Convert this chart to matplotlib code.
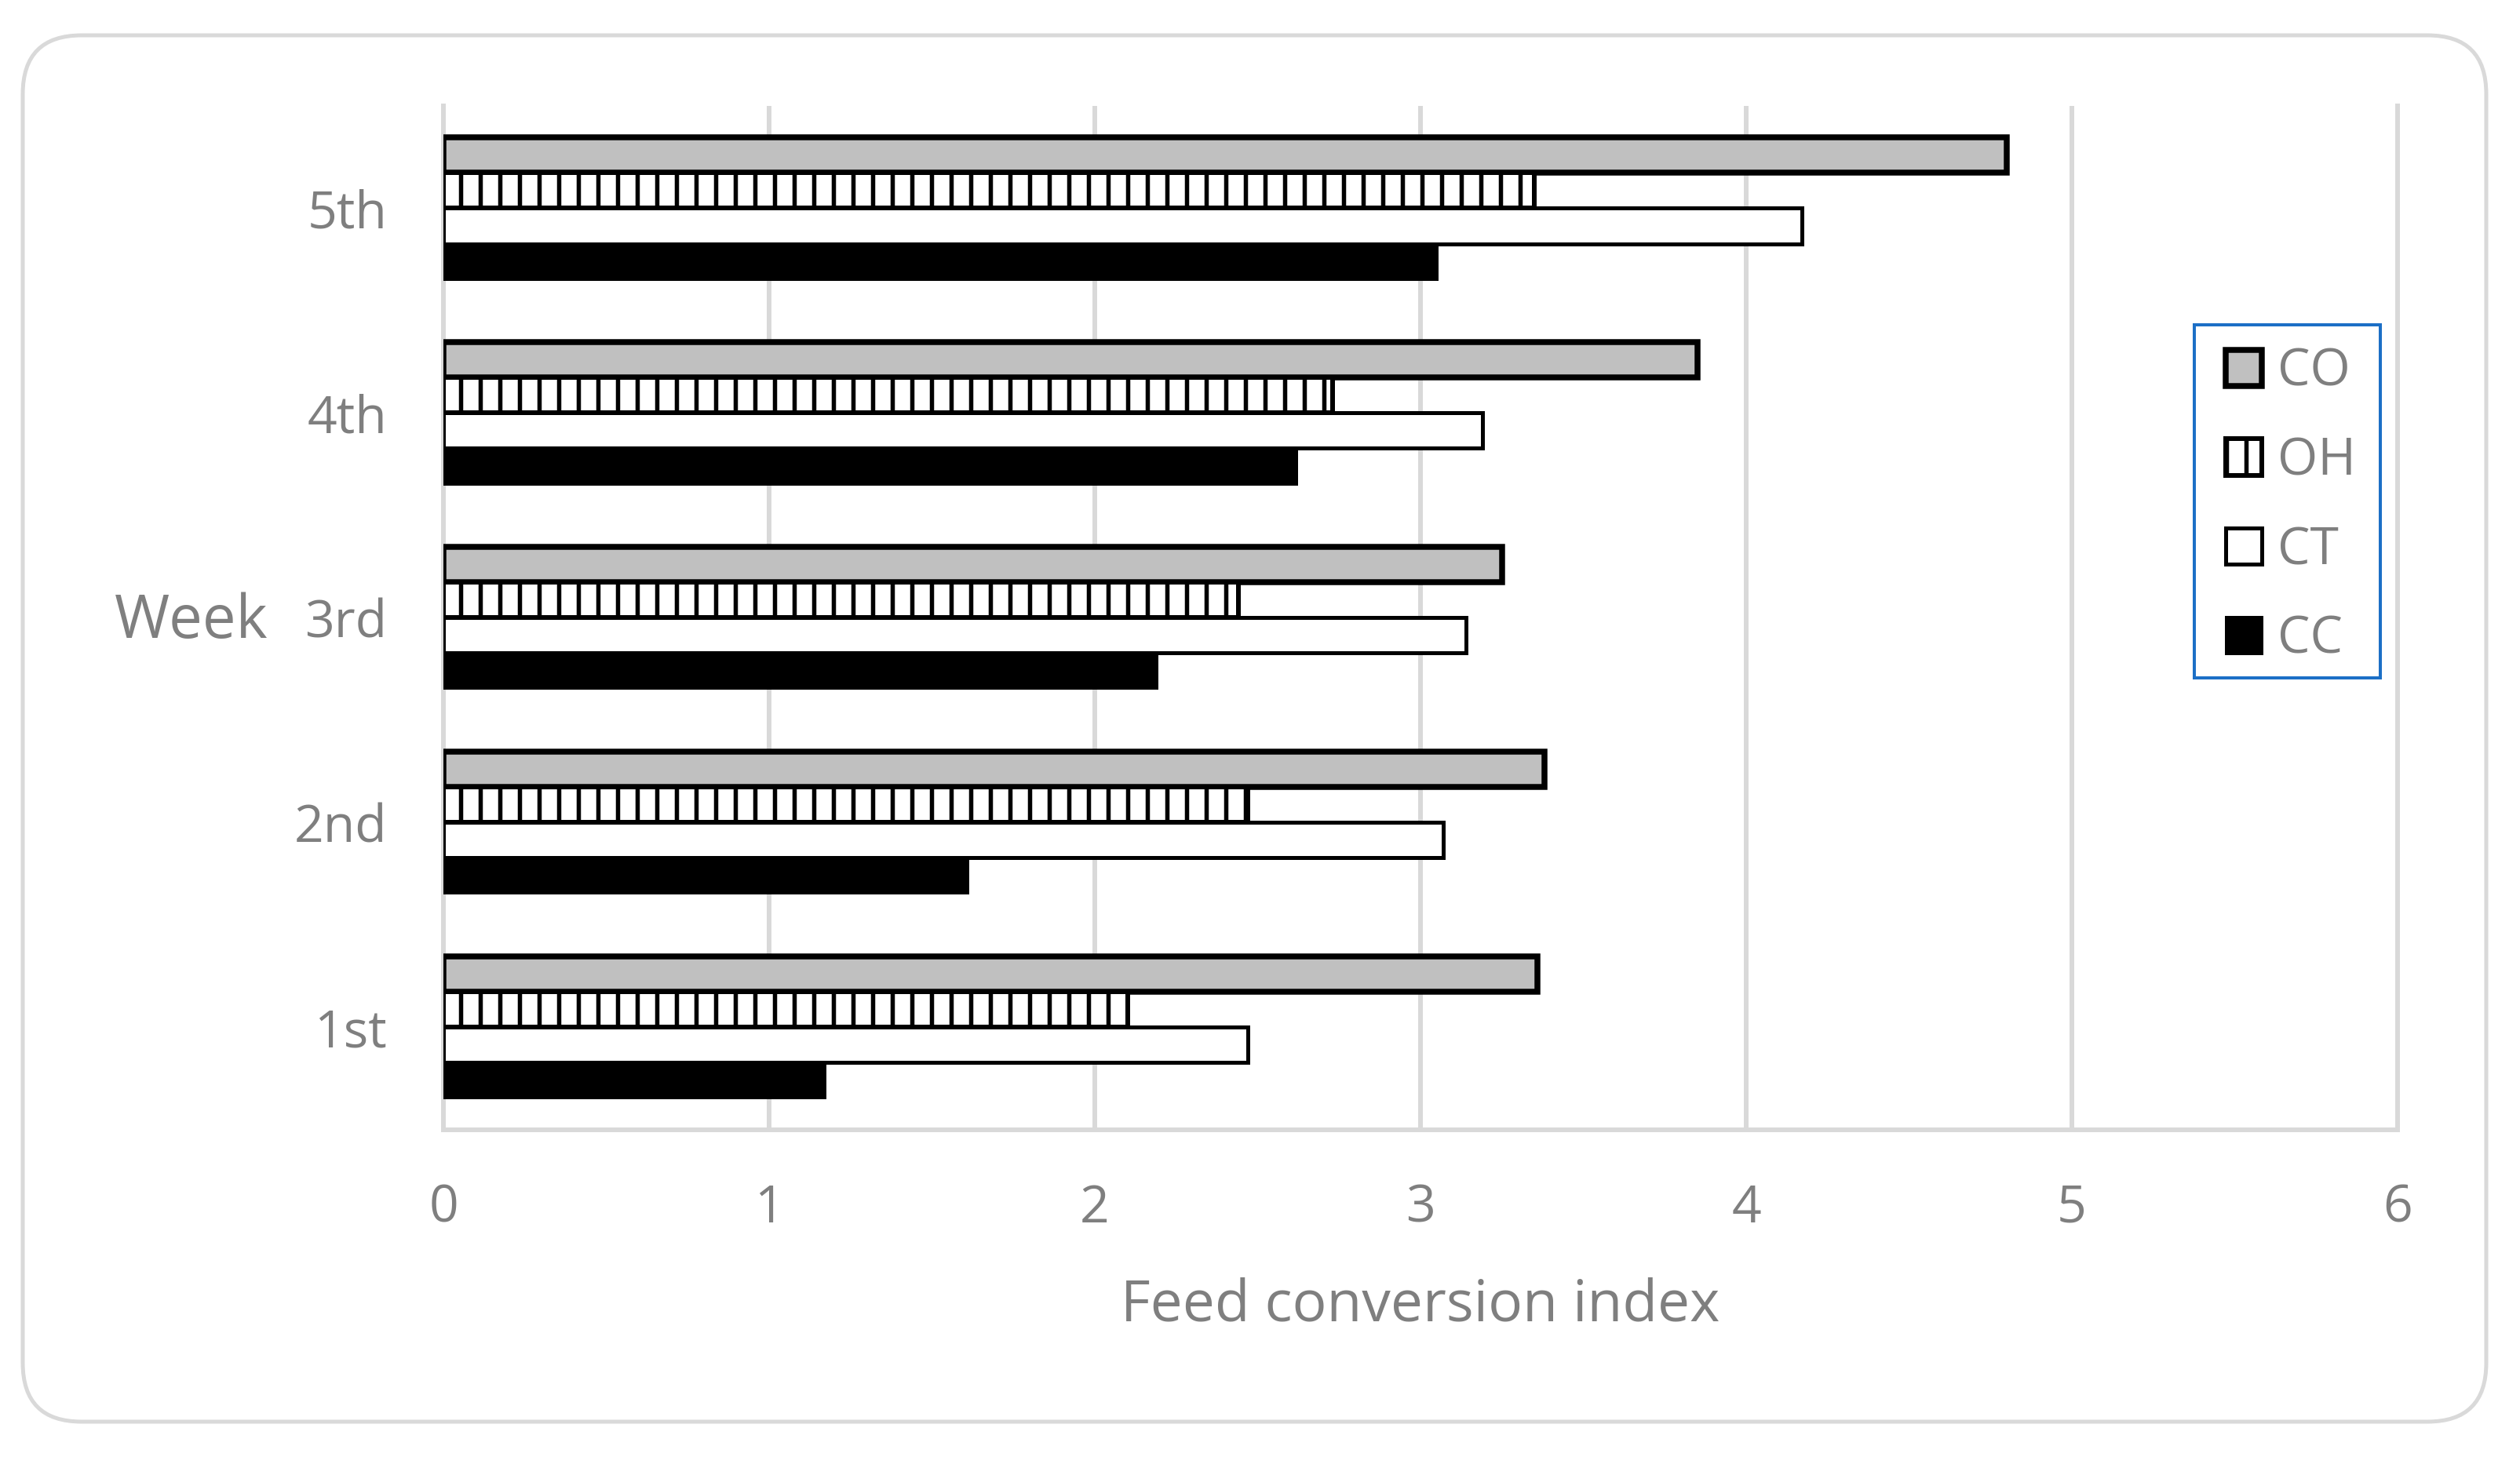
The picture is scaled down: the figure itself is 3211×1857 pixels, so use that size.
import matplotlib
matplotlib.use("Agg")
import matplotlib.pyplot as plt
import numpy as np
from matplotlib.patches import FancyBboxPatch, Rectangle
from matplotlib.transforms import IdentityTransform

DPI = 150
PT = 72.0 / DPI  # points per pixel

plt.rcParams['font.family'] = ['Open Sans', 'DejaVu Sans']
plt.rcParams['hatch.linewidth'] = 5.5 * PT

weeks = ["1st", "2nd", "3rd", "4th", "5th"]
series_names = ["CO", "OH", "CT", "CC"]
CO = [3.36, 3.38, 3.25, 3.85, 4.80]
OH = [2.10, 2.47, 2.44, 2.73, 3.35]
CT = [2.47, 3.07, 3.14, 3.19, 4.17]
CC = [1.17, 1.61, 2.19, 2.62, 3.05]
xticks = [0, 1, 2, 3, 4, 5, 6]
xlabel = "Feed conversion index"
ylabel = "Week"

W, H = 3211, 1857
fig = plt.figure(figsize=(W / DPI, H / DPI), dpi=DPI)

# rounded outer border (pixel coordinates)
border = FancyBboxPatch((29, 45), 3168 - 29, 1812 - 45,
                        boxstyle="round,pad=0,rounding_size=75",
                        transform=IdentityTransform(), facecolor='none',
                        edgecolor='#d9d9d9', linewidth=5 * PT, zorder=-1)
fig.patches.append(border)

ax = fig.add_axes([0.176, 0.2246, 0.7754, 0.7027])
ax.set_facecolor('none')

gray = '#7f7f7f'
grid = '#d9d9d9'
y = np.arange(len(weeks))
h = 0.1725
styles = [
    dict(data=CO, color='#c0c0c0', hatch=None, off=1.5, lw=7.5),
    dict(data=OH, color='white', hatch='|', off=0.5, lw=6),
    dict(data=CT, color='white', hatch=None, off=-0.5, lw=5),
    dict(data=CC, color='black', hatch=None, off=-1.5, lw=3),
]
handles = []
for name, s in zip(series_names, styles):
    b = ax.barh(y + s['off'] * h, s['data'], height=h, color=s['color'],
                edgecolor='black', hatch=s['hatch'], linewidth=s['lw'] * PT,
                label=name, zorder=3)
    handles.append(b)

ax.set_xlim(0, 6)
ax.set_ylim(-0.5, 4.5)
ax.set_xticks(xticks)
ax.set_xticklabels([str(t) for t in xticks])
ax.set_yticks(y)
ax.set_yticklabels(weeks)
ax.tick_params(axis='both', length=0, labelsize=66 * PT, colors=gray)
ax.tick_params(axis='y', pad=72 * PT)
ax.tick_params(axis='x', pad=68 * PT)
ax.set_axisbelow(True)
ax.grid(axis='x', color=grid, linewidth=6 * PT)
ax.grid(axis='y', visible=False)
for sp in ['left', 'bottom', 'right']:
    ax.spines[sp].set_color(grid)
    ax.spines[sp].set_linewidth(6 * PT)
ax.spines['top'].set_visible(False)

fig.text(1810 / W, 1 - 1664 / H, xlabel, ha='center', va='center',
         fontsize=73 * PT, color=gray)
fig.text(244 / W, 1 - 793 / H, ylabel, ha='center', va='center',
         fontsize=76 * PT, color=gray)

# legend frame drawn separately at exact position
frame = Rectangle((2796, H - 864), 3033 - 2796, 864 - 414,
                  transform=IdentityTransform(), facecolor='white',
                  edgecolor='#1c6fc6', linewidth=4 * PT, zorder=4)
fig.patches.append(frame)

leg = fig.legend(handles=handles, labels=series_names, loc='upper left',
                 bbox_to_anchor=(2836 / W, 1 - 442 / H), fontsize=66 * PT,
                 frameon=False, handlelength=0.7, handleheight=0.7,
                 handletextpad=0.3, labelspacing=0.72, borderpad=0,
                 borderaxespad=0)
leg.set_zorder(5)
for t in leg.get_texts():
    t.set_color(gray)

fig.savefig("out.png", dpi=DPI, facecolor='white')
